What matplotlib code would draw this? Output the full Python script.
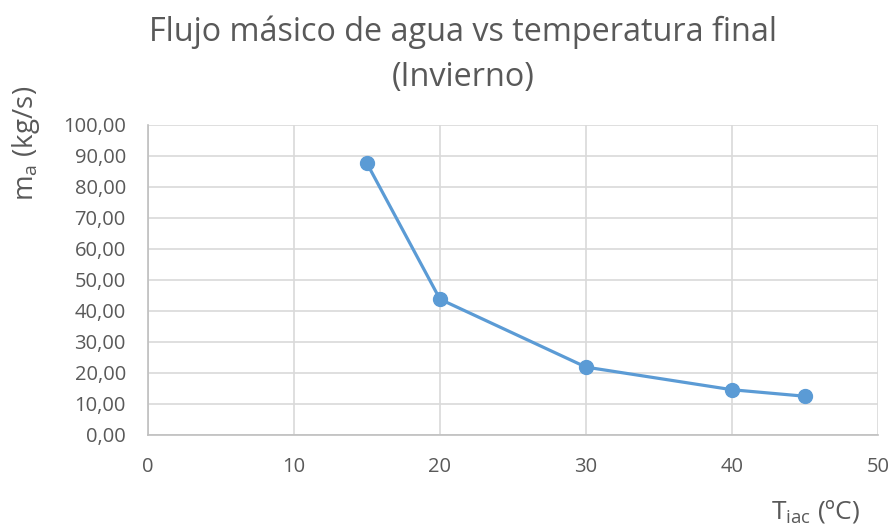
import matplotlib.pyplot as plt
import numpy as np

# temperatura final (ºC) y flujo másico de agua (kg/s)
temperaturas = [15, 20, 30, 40, 45]
flujo_masico = [87.6, 43.8, 21.9, 14.6, 12.5]

x_ticks = [0, 10, 20, 30, 40, 50]
y_ticks = np.arange(0, 101, 10)

plt.rcParams['font.family'] = ['Open Sans', 'DejaVu Sans']

fig = plt.figure(figsize=(8.92, 5.31), dpi=100)
ax = fig.add_axes([0.1659, 0.1808, 0.8184, 0.5838])

ax.plot(temperaturas, flujo_masico, color='#5B9BD5', linewidth=2.3,
        marker='o', markersize=10, zorder=3)

ax.set_xlim(0, 50)
ax.set_ylim(0, 100)
ax.set_xticks(x_ticks)
ax.set_yticks(y_ticks)
ax.set_yticklabels([('%.2f' % v).replace('.', ',') for v in y_ticks])
ax.grid(True, color='#d9d9d9', linewidth=1.2)
ax.set_axisbelow(True)
for s in ['top', 'right']:
    ax.spines[s].set_visible(False)
for s in ['left', 'bottom']:
    ax.spines[s].set_color('#bfbfbf')
    ax.spines[s].set_linewidth(1.2)
ax.tick_params(length=0, labelsize=14.5, colors='#595959')
ax.tick_params(axis='y', pad=16)
ax.tick_params(axis='x', pad=16)

fig.text(0.519, 0.97, 'Flujo másico de agua vs temperatura final\n(Invierno)',
         ha='center', va='top', fontsize=23.3, color='#595959', linespacing=1.45)
fig.text(0.029, 0.729, r'm$_\mathregular{a}$ (kg/s)', rotation=90, ha='center',
         va='center', fontsize=20, color='#595959')
fig.text(0.914, 0.036, r'T$_\mathregular{iac}$ (ºC)', ha='center', va='center',
         fontsize=19, color='#595959')

fig.savefig('out.png', dpi=100)
